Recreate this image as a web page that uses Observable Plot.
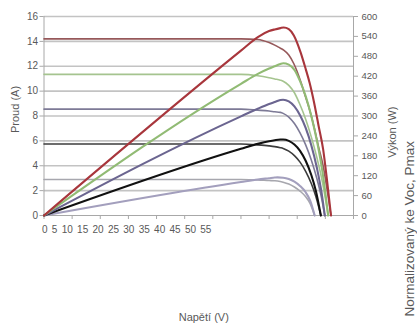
<!DOCTYPE html>
<html>
<head>
<meta charset="utf-8">
<script src="https://cdn.jsdelivr.net/npm/d3@7"></script>
<script src="https://cdn.jsdelivr.net/npm/@observablehq/plot@0.6"></script>
<style>
  html, body { margin: 0; padding: 0; background: #ffffff; }
  #chart { width: 417px; height: 329px; overflow: hidden; }
</style>
</head>
<body>
<div id="chart"></div>
<script>
// ---- Tick labels ----
const xTickValues = [0, 5, 10, 15, 20, 25, 30, 35, 40, 45, 50, 55];
const yTickValues = [0, 2, 4, 6, 8, 10, 12, 14, 16];
const powerTickValues = [0, 60, 120, 180, 240, 300, 360, 420, 480, 540, 600];

// ---- Axis titles ----
const xTitle = "Napětí (V)";
const yTitle = "Proud (A)";
const y2Title = "Výkon (W)";
const y3Title = "Normalizovaný ke Voc, Pmax";

// ---- Series keys ----
const seriesKeys = ["s1", "s2", "s3", "s4", "s5"];

// ---- Voltage samples (V) per series ----
const vS1 = [0, 35, 38, 40, 41, 42, 42.6, 43.5, 44.4, 45.6, 46.5, 47.2, 48, 48.8, 49.6, 50.3, 51];
const vS2 = [0, 35, 38, 40, 41, 42, 42.5, 43.5, 44.5, 45.5, 46.5, 47.5, 48.5, 49.5, 50.5];
const vS3 = [0, 35, 38, 40, 41, 42, 42.5, 43.5, 44.5, 45.5, 46.5, 47.5, 48.5, 49.3, 49.9];
const vS4 = [0, 35, 38, 40, 41, 42, 42.5, 43.5, 44.5, 45.5, 46.5, 47.5, 48.3, 49.2];
const vS5 = [0, 35, 38, 40, 41, 41.5, 42.5, 43.5, 44.5, 45.5, 46.5, 47.3, 48.1];

// ---- Current (A) ----
const iS1 = [14.2, 14.2, 14.15, 13.9, 13.7, 13.45, 13.3, 12.9, 12.2, 10.8, 9.5, 8.5, 7.1, 5.5, 4.0, 2.1, 0];
const iS2 = [11.35, 11.35, 11.24, 11.08, 10.98, 10.88, 10.8, 10.46, 9.87, 8.9, 7.74, 6.32, 4.64, 2.63, 0];
const iS3 = [8.55, 8.55, 8.47, 8.4, 8.34, 8.29, 8.21, 7.91, 7.39, 6.64, 5.68, 4.46, 2.95, 1.46, 0];
const iS4 = [5.75, 5.75, 5.68, 5.6, 5.54, 5.45, 5.39, 5.17, 4.81, 4.29, 3.55, 2.57, 1.55, 0];
const iS5 = [2.89, 2.89, 2.86, 2.81, 2.79, 2.77, 2.68, 2.53, 2.29, 1.96, 1.51, 0.95, 0];

// ---- Power (W) ----
const pS1 = [0, 497, 538, 556, 561, 565, 567, 562, 543, 492, 442, 400, 340, 270, 200, 105, 0];
const pS2 = [0, 397, 427, 443, 450, 457, 459, 455, 439, 405, 360, 300, 225, 130, 0];
const pS3 = [0, 299, 322, 336, 342, 348, 349, 344, 329, 302, 264, 212, 143, 72, 0];
const pS4 = [0, 201, 216, 224, 227, 229, 229, 225, 214, 195, 165, 122, 75, 0];
const pS5 = [0, 101, 108.5, 112.5, 114.5, 115, 114, 110, 102, 89, 70, 45, 0];

// ---- Styles (kept apart from data) ----
const currentColors = { s1: "#96585a", s2: "#a5c48f", s3: "#7d7a96", s4: "#3c3c3c", s5: "#a7a7ae" };
const powerColors   = { s1: "#a8363c", s2: "#91bb74", s3: "#6b6590", s4: "#111111", s5: "#a39fbd" };

const W_PER_A = powerTickValues[powerTickValues.length - 1] / yTickValues[yTickValues.length - 1];

const voltages = { s1: vS1, s2: vS2, s3: vS3, s4: vS4, s5: vS5 };
const currents = { s1: iS1, s2: iS2, s3: iS3, s4: iS4, s5: iS5 };
const powers   = { s1: pS1, s2: pS2, s3: pS3, s4: pS4, s5: pS5 };

const ivRows = [];
const pvRows = [];
// draw order: smallest series first so the largest sits on top
[...seriesKeys].reverse().forEach(k => {
  voltages[k].forEach((v, j) => {
    ivRows.push({ key: k, v, a: currents[k][j] });
    pvRows.push({ key: k, v, w: powers[k][j], a: powers[k][j] / W_PER_A });
  });
});

const font = "'Liberation Sans', Arial, sans-serif";
const xLabelRun = xTickValues.join(" ");

const chart = Plot.plot({
  width: 417,
  height: 329,
  marginLeft: 43.5,
  marginRight: 64,
  marginTop: 16,
  marginBottom: 114,
  style: { fontFamily: font, fontSize: "10px", background: "transparent", color: "#595959", overflow: "visible" },
  x: { domain: [xTickValues[0], xTickValues[xTickValues.length - 1]] },
  y: { domain: [yTickValues[0], yTickValues[yTickValues.length - 1]] },
  marks: [
    // horizontal gridlines
    Plot.ruleY(yTickValues.filter(d => d > 0), { stroke: "#c3c3c3", strokeWidth: 1.6 }),
    // axis lines
    Plot.ruleX([xTickValues[0], xTickValues[xTickValues.length - 1]], { stroke: "#a8a8a8", strokeWidth: 1 }),
    Plot.ruleY([0], { stroke: "#a8a8a8", strokeWidth: 1 }),
    // left axis
    Plot.axisY(yTickValues, { anchor: "left", tickSize: 4, tickPadding: 2, label: null, stroke: "#a8a8a8", fill: "#595959", fontSize: 10 }),
    // right axis (power)
    Plot.axisY(powerTickValues.map(w => w / W_PER_A), {
      anchor: "right", tickSize: 4, tickPadding: 4, label: null,
      tickFormat: d => String(Math.round(d * W_PER_A)),
      stroke: "#a8a8a8", fill: "#595959", fontSize: 9.5
    }),
    // bottom tick marks
    Plot.axisX(xTickValues, { anchor: "bottom", tickSize: 4, tickFormat: () => "", label: null, stroke: "#a8a8a8" }),
    // bottom tick labels (rendered as one run of text, as in the reference)
    Plot.text([xLabelRun], {
      x: () => xTickValues[0], y: () => yTickValues[0], text: d => d,
      textAnchor: "start", dx: -2, dy: 14, fontSize: 10, fill: "#595959"
    }),
    // I-V curves
    Plot.line(ivRows, { x: "v", y: "a", z: "key", stroke: d => currentColors[d.key], strokeWidth: 1.6, curve: "monotone-x" }),
    // P-V curves (right axis)
    Plot.line(pvRows, { x: "v", y: "a", z: "key", stroke: d => powerColors[d.key], strokeWidth: 2.1, curve: "monotone-x" }),
    // axis titles
    Plot.text([xTitle], { frameAnchor: "bottom", text: d => d, dx: 5, dy: 105, fontSize: 11, fill: "#595959" }),
    Plot.text([yTitle], { frameAnchor: "left", text: d => d, rotate: -90, dx: -28.5, dy: 17, fontSize: 11, fill: "#595959" }),
    Plot.text([y2Title], { frameAnchor: "right", text: d => d, rotate: -90, dx: 39, dy: -9.5, fontSize: 11, fill: "#595959" }),
    Plot.text([y3Title], { frameAnchor: "right", text: d => d, rotate: -90, dx: 56, dy: 25, fontSize: 13.5, fill: "#595959" })
  ]
});

// widen the gaps of the single tick-label run to match the reference spacing
d3.select(chart).selectAll("text")
  .filter(function () { return this.textContent === xLabelRun; })
  .style("word-spacing", "1.5px");

document.getElementById("chart").appendChild(chart);
</script>
</body>
</html>
